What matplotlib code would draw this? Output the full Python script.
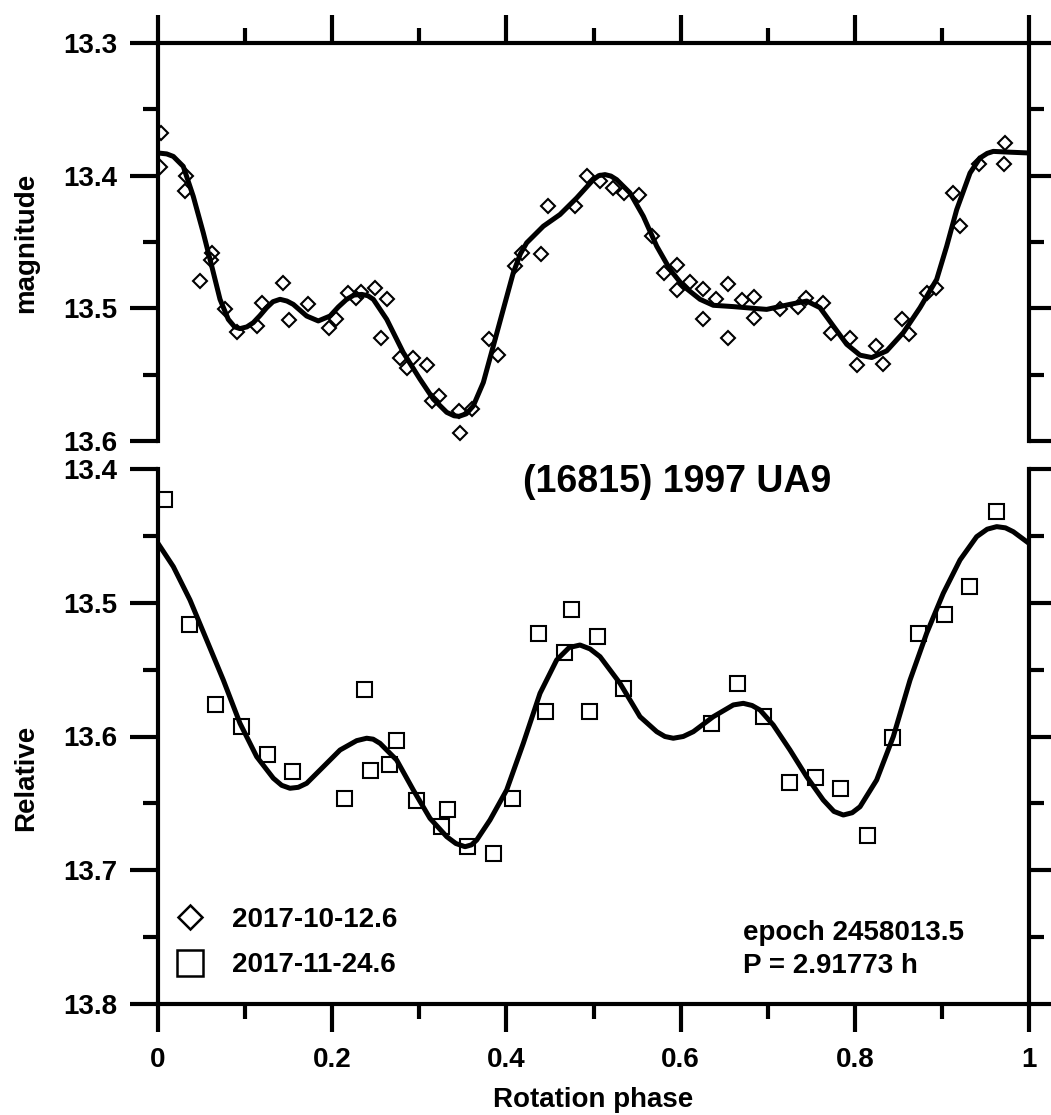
import matplotlib
matplotlib.use("Agg")
import matplotlib.pyplot as plt
from matplotlib.lines import Line2D
from matplotlib.ticker import MultipleLocator, FixedLocator, FixedFormatter

plt.rcParams['font.family'] = ['Liberation Sans', 'DejaVu Sans']
plt.rcParams['font.weight'] = 'bold'

# ---- data: session 1 (2017-10-12.6), diamonds ----
phase1 = [0.0031, 0.0023, 0.0321, 0.0310, 0.0617, 0.0608, 0.0482, 0.0769, 0.0904, 0.1140,
          0.1197, 0.1439, 0.1507, 0.1726, 0.1963, 0.2044, 0.2185, 0.2273, 0.2331, 0.2491,
          0.2626, 0.2560, 0.2778, 0.2855, 0.2931, 0.3085, 0.3142, 0.3226, 0.3467, 0.3456,
          0.3602, 0.3804, 0.3900, 0.4099, 0.4176, 0.4397, 0.4481, 0.4788, 0.4922, 0.5075,
          0.5220, 0.5354, 0.5522, 0.5668, 0.5809, 0.5962, 0.5955, 0.6108, 0.6261, 0.6254,
          0.6406, 0.6548, 0.6548, 0.6705, 0.6848, 0.6837, 0.7141, 0.7351, 0.7440, 0.7638,
          0.7723, 0.7945, 0.8029, 0.8243, 0.8327, 0.8538, 0.8626, 0.8832, 0.8932, 0.9131,
          0.9208, 0.9426, 0.9725, 0.9716]
mag1 = [13.3679, 13.3938, 13.4005, 13.4118, 13.4586, 13.4637, 13.4795, 13.5002, 13.5175, 13.5133,
        13.4962, 13.4807, 13.5088, 13.4970, 13.5150, 13.5077, 13.4882, 13.4920, 13.4877, 13.4844,
        13.4932, 13.5220, 13.5371, 13.5446, 13.5378, 13.5426, 13.5697, 13.5659, 13.5942, 13.5774,
        13.5759, 13.5233, 13.5353, 13.4682, 13.4581, 13.4594, 13.4226, 13.4226, 13.4000, 13.4043,
        13.4092, 13.4130, 13.4143, 13.4456, 13.4737, 13.4674, 13.4862, 13.4802, 13.4857, 13.5083,
        13.4927, 13.4814, 13.5220, 13.4936, 13.4915, 13.5075, 13.5002, 13.4987, 13.4925, 13.4957,
        13.5183, 13.5220, 13.5426, 13.5283, 13.5421, 13.5083, 13.5195, 13.4887, 13.4844, 13.4130,
        13.4381, 13.3912, 13.3754, 13.3912]

# fitted curve for session 1
fit1_phase = [0.0000, 0.0100, 0.0176, 0.0290, 0.0405, 0.0520, 0.0617, 0.0712, 0.0807, 0.0880,
              0.0941, 0.1020, 0.1094, 0.1170,
              0.1248, 0.1320, 0.1401, 0.1480, 0.1553, 0.1707, 0.1840, 0.1975, 0.2070, 0.2166,
              0.2250, 0.2339, 0.2410, 0.2472, 0.2626,
              0.2816, 0.3008, 0.3161, 0.3315, 0.3400, 0.3456, 0.3540, 0.3620, 0.3735, 0.3850,
              0.3964, 0.4079, 0.4160,
              0.4233, 0.4424, 0.4615, 0.4807, 0.4998, 0.5060, 0.5132, 0.5200, 0.5266, 0.5419,
              0.5572, 0.5726,
              0.5878, 0.6031, 0.6223, 0.6375, 0.6605, 0.6874, 0.6988, 0.7256, 0.7448, 0.7600,
              0.7753, 0.7907, 0.8060, 0.8194, 0.8366, 0.8557, 0.8749, 0.8940, 0.9055, 0.9170,
              0.9323, 0.9437, 0.9520, 0.9590, 0.9780, 1.0000]
fit1_mag = [13.3829, 13.3836, 13.3855, 13.3930, 13.4156, 13.4431, 13.4682, 13.4932, 13.5083, 13.5140,
            13.5153, 13.5140, 13.5108, 13.5055,
            13.4995, 13.4950, 13.4932, 13.4945, 13.4970, 13.5058, 13.5095, 13.5058, 13.4990, 13.4932,
            13.4900, 13.4895, 13.4905, 13.4932, 13.5083,
            13.5333, 13.5534, 13.5684, 13.5784, 13.5810, 13.5814, 13.5795, 13.5735, 13.5559, 13.5283,
            13.5008, 13.4732, 13.4590,
            13.4506, 13.4381, 13.4293, 13.4168, 13.4030, 13.4000, 13.3992, 13.4003, 13.4030, 13.4130,
            13.4306, 13.4532,
            13.4707, 13.4832, 13.4932, 13.4977, 13.4987, 13.5002, 13.5008, 13.4970, 13.4945, 13.4995,
            13.5133, 13.5271, 13.5353, 13.5371, 13.5321, 13.5183, 13.4995, 13.4782, 13.4532, 13.4256,
            13.3980, 13.3867, 13.3832, 13.3817, 13.3823, 13.3829]

# ---- data: session 2 (2017-11-24.6), squares ----
phase2 = [0.0073, 0.0360, 0.0654, 0.0953, 0.1255, 0.1542, 0.2135, 0.2365, 0.2434, 0.2656,
          0.2732, 0.2962, 0.3249, 0.3322, 0.3551, 0.3850, 0.4068, 0.4366, 0.4443, 0.4661,
          0.4742, 0.4952, 0.5037, 0.5335, 0.6345, 0.6644, 0.6942, 0.7245, 0.7543, 0.7830,
          0.8136, 0.8431, 0.8729, 0.9024, 0.9315, 0.9617]
mag2 = [13.4224, 13.5161, 13.5757, 13.5919, 13.6133, 13.6256, 13.6458, 13.5645, 13.6250, 13.6206,
        13.6026, 13.6475, 13.6667, 13.6544, 13.6819, 13.6869, 13.6458, 13.5224, 13.5807, 13.5371,
        13.5047, 13.5807, 13.5246, 13.5640, 13.5897, 13.5602, 13.5847, 13.6338, 13.6305, 13.6388,
        13.6736, 13.6006, 13.5224, 13.5086, 13.4875, 13.4314]

fit2_phase = [0.0000, 0.0176, 0.0367, 0.0559, 0.0750, 0.0941, 0.1133, 0.1324, 0.1420, 0.1515,
              0.1610, 0.1707,
              0.1898, 0.2090, 0.2281, 0.2396, 0.2470, 0.2549, 0.2740, 0.2931, 0.3123, 0.3315, 0.3420,
              0.3525, 0.3600,
              0.3659, 0.3812, 0.4003, 0.4194, 0.4386, 0.4577, 0.4720, 0.4845, 0.4960, 0.5075, 0.5304,
              0.5534, 0.5726, 0.5820, 0.5916, 0.6030, 0.6146, 0.6375, 0.6605, 0.6720, 0.6820, 0.6912,
              0.7064, 0.7256, 0.7448, 0.7638, 0.7760, 0.7868, 0.7970, 0.8060, 0.8251, 0.8442,
              0.8634, 0.8825, 0.9016, 0.9208, 0.9399, 0.9520, 0.9629, 0.9730, 0.9820, 1.0000]
fit2_mag = [13.4556, 13.4730, 13.4979, 13.5279, 13.5578, 13.5901, 13.6151, 13.6312, 13.6365, 13.6387,
            13.6380, 13.6350,
            13.6226, 13.6101, 13.6031, 13.6013, 13.6020, 13.6051, 13.6176, 13.6400, 13.6612, 13.6749,
            13.6800, 13.6824, 13.6810,
            13.6774, 13.6624, 13.6400, 13.6051, 13.5677, 13.5428, 13.5335, 13.5316, 13.5345, 13.5403,
            13.5602, 13.5852, 13.5964, 13.6000, 13.6013, 13.6000, 13.5964, 13.5852, 13.5764, 13.5752,
            13.5768, 13.5802, 13.5914, 13.6101, 13.6301, 13.6475, 13.6560, 13.6587, 13.6570, 13.6525,
            13.6325, 13.6001, 13.5578, 13.5228, 13.4929, 13.4680, 13.4506, 13.4450, 13.4431,
            13.4440, 13.4469, 13.4556]

labels = ['2017-10-12.6', '2017-11-24.6']
title = '(16815) 1997 UA9'
xticks = [0, 0.2, 0.4, 0.6, 0.8, 1.0]
xticklabels = ['0', '0.2', '0.4', '0.6', '0.8', '1']

W, H = 1051, 1115
fig = plt.figure(figsize=(W / 100, H / 100), dpi=100)
L, R = 158, 1029
ax1 = fig.add_axes([L / W, 1 - 441 / H, (R - L) / W, (441 - 43) / H])
ax2 = fig.add_axes([L / W, 1 - 1004 / H, (R - L) / W, (1004 - 469) / H])

lw_sp = 3.0
for ax in (ax1, ax2):
    for s in ax.spines.values():
        s.set_linewidth(lw_sp)
    ax.set_xlim(0, 1)
    ax.xaxis.set_major_locator(FixedLocator(xticks))
    ax.xaxis.set_major_formatter(FixedFormatter(xticklabels))
    ax.xaxis.set_minor_locator(MultipleLocator(0.1))
    ax.yaxis.set_major_locator(MultipleLocator(0.1))
    ax.yaxis.set_minor_locator(MultipleLocator(0.05))
    ax.yaxis.set_major_formatter(plt.FormatStrFormatter('%.1f'))
    ax.tick_params(axis='both', which='major', direction='out', length=20, width=lw_sp,
                   labelsize=20, pad=9)
    ax.tick_params(axis='both', which='minor', direction='out', length=10.5, width=lw_sp)
    ax.tick_params(axis='y', which='both', left=True, right=True, labelleft=True, labelright=False)

ax1.set_ylim(13.6, 13.3)
ax2.set_ylim(13.8, 13.4)
ax1.spines['bottom'].set_visible(False)
ax2.spines['top'].set_visible(False)
ax1.tick_params(axis='x', which='both', top=True, bottom=False, labeltop=False, labelbottom=False)
ax2.tick_params(axis='x', which='both', top=False, bottom=True, labelbottom=True)
ax2.tick_params(axis='x', which='major', pad=11)

# session 1
ax1.plot(phase1, mag1, ls='none', marker='D', ms=6.9, mfc='none', mec='black', mew=1.5, zorder=2)
ax1.plot(fit1_phase, fit1_mag, color='black', lw=3.6, solid_joinstyle='round',
         solid_capstyle='butt', zorder=3)

# session 2
ax2.plot(phase2, mag2, ls='none', marker='s', ms=10.8, mfc='none', mec='black', mew=1.5, zorder=2)
ax2.plot(fit2_phase, fit2_mag, color='black', lw=3.6, solid_joinstyle='round',
         solid_capstyle='butt', zorder=3)

ax2.set_xlabel('Rotation phase', fontsize=20, fontweight='bold', labelpad=10)

# y labels
fig.text(26 / W, 1 - 243 / H, 'magnitude', rotation=90, ha='center', va='center',
         fontsize=20, fontweight='bold')
fig.text(26 / W, 1 - 778 / H, 'Relative', rotation=90, ha='center', va='center',
         fontsize=20, fontweight='bold')

# title
ax2.text(0.596, 13.4172, title, ha='center', va='baseline', fontsize=27, fontweight='bold')

# annotation
ax2.text(0.6716, 13.4 + (940 - 469) / 1337.5, 'epoch 2458013.5', ha='left', va='baseline',
         fontsize=20, fontweight='bold')
ax2.text(0.6716, 13.4 + (973 - 469) / 1337.5, 'P = 2.91773 h', ha='left', va='baseline',
         fontsize=20, fontweight='bold')

# legend
handles = [Line2D([], [], ls='none', marker='D', ms=12.7, mfc='none', mec='black', mew=1.8),
           Line2D([], [], ls='none', marker='s', ms=18.5, mfc='none', mec='black', mew=1.8)]
ax2.legend(handles, labels, loc='upper left', bbox_to_anchor=(0.0207, 0.181),
           frameon=False, borderpad=0, borderaxespad=0, handlelength=1.0,
           handletextpad=1.0, labelspacing=0.69, prop={'size': 20, 'weight': 'bold'})

fig.savefig('out.png', dpi=100)
